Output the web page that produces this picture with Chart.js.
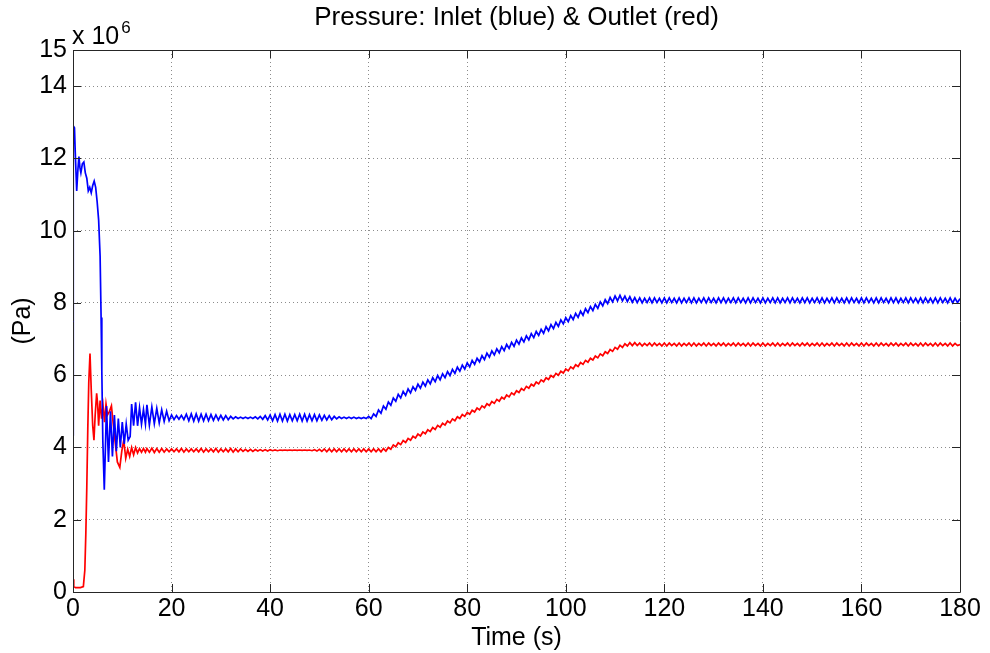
<!DOCTYPE html>
<html lang="en">
<head>
  <meta charset="UTF-8">
  <title>Pressure: Inlet (blue) &amp; Outlet (red)</title>
  <script src="https://cdn.jsdelivr.net/npm/chart.js"></script>
  <style>
    html, body { margin: 0; padding: 0; background: #fff; }
  </style>
</head>
<body>
  <canvas id="pressureChart" width="990" height="653"></canvas>

  <script>
    // all pressures are in units of 10^6 Pa (axis shows "x 10^6")
    const xTicks = [0, 20, 40, 60, 80, 100, 120, 140, 160, 180];
    const yTicks = [0, 2, 4, 6, 8, 10, 12, 14, 15];

    // start-up transient, read point by point
    const inletEarlyTime = [0, 0.05, 0.3, 0.45, 0.75, 1.0, 1.2, 1.4, 1.6, 1.9, 2.2, 2.5, 2.8, 3.1, 3.4, 3.7, 4.0, 4.3, 4.6, 4.9,
      5.2, 5.5, 5.7, 5.85, 6.05, 6.35, 6.8, 7.2, 7.6, 8.0, 8.4, 8.8, 9.2, 9.6, 10.0, 10.4, 10.8, 11.2, 11.6,
      11.9, 12.3, 12.7, 13.1, 13.5, 13.9, 14.3, 14.7];
    const inletEarly = [4.35, 12.9, 12.85, 12.2, 11.1, 11.7, 12.05, 11.75, 11.6, 11.85, 11.9, 11.6, 11.45, 11.1, 11.2, 11.05, 11.25, 11.37, 11.2, 10.8,
      10.3, 9.3, 7.6, 6.1, 4.2, 2.83, 5.15, 3.6, 5.0, 3.75, 4.9, 3.9, 4.8, 4.0, 4.7, 4.1, 4.65, 4.2, 4.3,
      5.2, 4.6, 5.25, 4.6, 5.1, 4.65, 5.05, 4.65];

    const outletEarlyTime = [0, 0.15, 0.5, 1.5, 2.1, 2.4, 2.6, 2.8, 3.0, 3.2, 3.45, 3.7, 4.0, 4.25, 4.5, 4.8, 5.0, 5.2, 5.5, 5.8,
      6.1, 6.4, 6.7, 7.0, 7.4, 7.8, 8.2, 8.6, 9.0, 9.5, 9.9, 10.3, 10.7, 11.1, 11.5, 11.9, 12.3, 12.7, 13.1,
      13.5, 13.9, 14.3, 14.7];
    const outletEarly = [0.35, 0.15, 0.12, 0.12, 0.15, 0.6, 1.6, 2.9, 4.5, 5.8, 6.6, 5.6, 4.6, 4.2, 4.9, 5.5, 5.2, 4.6, 5.3, 4.8,
      5.15, 4.7, 5.2, 4.9, 5.0, 5.15, 4.6, 4.1, 3.6, 3.45, 3.9, 4.2, 3.7, 3.95, 3.75, 4.0, 3.8, 4.0, 3.85,
      3.97, 3.87, 3.97, 3.87];

    // from t = 15 s on, one reading every 0.5 s (ripple peaks and troughs)
    const rippleStart = 15;
    const rippleStep = 0.5;
    const inletRipple = [
      5.18, 4.62, 5.12, 4.66, 5.08, 4.68, 5.04, 4.72, 5.00, 4.74,
      4.90, 4.77, 4.88, 4.78, 4.89, 4.77, 4.92, 4.74, 4.93, 4.73,
      4.93, 4.73, 4.92, 4.74, 4.92, 4.74, 4.91, 4.75, 4.90, 4.76,
      4.89, 4.76, 4.88, 4.77, 4.86, 4.79, 4.85, 4.80, 4.84, 4.80,
      4.84, 4.80, 4.84, 4.80, 4.85, 4.79, 4.86, 4.78, 4.88, 4.76,
      4.90, 4.74, 4.91, 4.73, 4.92, 4.73, 4.92, 4.73, 4.91, 4.74,
      4.91, 4.74, 4.92, 4.73, 4.92, 4.73, 4.91, 4.74, 4.91, 4.74,
      4.90, 4.75, 4.89, 4.76, 4.88, 4.77, 4.86, 4.79, 4.85, 4.80,
      4.84, 4.80, 4.84, 4.80, 4.84, 4.80, 4.83, 4.80, 4.83, 4.80,
      4.86, 4.80, 4.93, 4.86, 5.04, 4.95, 5.15, 5.06, 5.26, 5.17,
      5.37, 5.28, 5.47, 5.37, 5.55, 5.44, 5.62, 5.51, 5.68, 5.58,
      5.75, 5.64, 5.81, 5.70, 5.87, 5.76, 5.93, 5.82, 5.99, 5.87,
      6.04, 5.93, 6.10, 5.99, 6.16, 6.05, 6.22, 6.11, 6.28, 6.17,
      6.34, 6.23, 6.41, 6.30, 6.47, 6.37, 6.54, 6.43, 6.61, 6.50,
      6.67, 6.56, 6.73, 6.62, 6.79, 6.68, 6.85, 6.74, 6.91, 6.80,
      6.97, 6.86, 7.03, 6.92, 7.09, 6.98, 7.15, 7.04, 7.21, 7.10,
      7.27, 7.16, 7.34, 7.23, 7.40, 7.29, 7.46, 7.35, 7.53, 7.42,
      7.59, 7.48, 7.65, 7.54, 7.71, 7.60, 7.77, 7.66, 7.84, 7.73,
      7.90, 7.79, 7.96, 7.85, 8.03, 7.92, 8.09, 7.98, 8.15, 8.03,
      8.19, 8.06, 8.21, 8.06, 8.19, 8.04, 8.17, 8.02, 8.15, 8.01,
      8.14, 8.00, 8.13, 8.01, 8.14, 8.00, 8.14, 8.01, 8.13, 8.00,
      8.14, 8.00, 8.14, 8.01, 8.13, 8.00, 8.14, 8.00, 8.13, 8.01,
      8.14, 8.00, 8.14, 8.00, 8.13, 8.01, 8.14, 8.00, 8.14, 8.01,
      8.13, 8.00, 8.14, 8.01, 8.14, 8.00, 8.13, 8.01, 8.14, 8.00,
      8.14, 8.01, 8.13, 8.00, 8.14, 8.00, 8.14, 8.01, 8.13, 8.00,
      8.14, 8.00, 8.13, 8.01, 8.14, 8.00, 8.14, 8.00, 8.13, 8.01,
      8.14, 8.00, 8.14, 8.01, 8.13, 8.00, 8.14, 8.01, 8.14, 8.00,
      8.13, 8.01, 8.14, 8.00, 8.14, 8.00, 8.13, 8.01, 8.14, 8.00,
      8.14, 8.01, 8.13, 8.00, 8.14, 8.00, 8.14, 8.01, 8.13, 8.00,
      8.14, 8.00, 8.14, 8.01, 8.13, 8.00, 8.14, 8.00, 8.14, 8.01,
      8.13, 8.00, 8.14, 8.01, 8.14, 8.00, 8.13, 8.01, 8.14, 8.00,
      8.14, 8.01, 8.13, 8.00, 8.14, 8.00, 8.14, 8.01, 8.13, 8.00,
      8.14, 8.00, 8.14, 8.01, 8.13, 8.00, 8.14, 8.00, 8.13, 8.01,
      8.12
    ];
    const outletRipple = [
      3.97, 3.87, 3.98, 3.86, 3.97, 3.87, 3.97, 3.87, 3.96, 3.88,
      3.96, 3.88, 3.96, 3.88, 3.97, 3.87, 3.96, 3.88, 3.96, 3.88,
      3.96, 3.88, 3.97, 3.87, 3.96, 3.88, 3.96, 3.88, 3.97, 3.87,
      3.96, 3.88, 3.96, 3.88, 3.97, 3.87, 3.96, 3.88, 3.96, 3.89,
      3.95, 3.89, 3.95, 3.89, 3.94, 3.90, 3.94, 3.90, 3.94, 3.90,
      3.94, 3.91, 3.93, 3.91, 3.93, 3.92, 3.93, 3.92, 3.93, 3.92,
      3.93, 3.92, 3.93, 3.92, 3.93, 3.92, 3.93, 3.91, 3.94, 3.90,
      3.95, 3.89, 3.96, 3.88, 3.96, 3.88, 3.96, 3.88, 3.96, 3.88,
      3.96, 3.88, 3.96, 3.88, 3.96, 3.88, 3.96, 3.88, 3.96, 3.88,
      3.96, 3.88, 3.96, 3.88, 3.96, 3.88, 3.97, 3.90, 4.00, 3.95,
      4.07, 4.02, 4.13, 4.08, 4.19, 4.14, 4.25, 4.20, 4.31, 4.26,
      4.37, 4.32, 4.43, 4.38, 4.49, 4.44, 4.55, 4.50, 4.61, 4.56,
      4.67, 4.62, 4.73, 4.68, 4.79, 4.74, 4.85, 4.80, 4.91, 4.86,
      4.97, 4.92, 5.03, 4.98, 5.09, 5.04, 5.15, 5.10, 5.21, 5.16,
      5.27, 5.22, 5.33, 5.28, 5.39, 5.34, 5.45, 5.40, 5.51, 5.46,
      5.57, 5.52, 5.63, 5.58, 5.69, 5.64, 5.75, 5.70, 5.81, 5.76,
      5.87, 5.82, 5.93, 5.88, 5.99, 5.94, 6.05, 6.00, 6.11, 6.06,
      6.17, 6.12, 6.23, 6.18, 6.29, 6.24, 6.35, 6.30, 6.41, 6.36,
      6.47, 6.42, 6.53, 6.48, 6.59, 6.54, 6.65, 6.60, 6.71, 6.66,
      6.77, 6.72, 6.83, 6.77, 6.87, 6.81, 6.90, 6.82, 6.90, 6.82,
      6.89, 6.81, 6.88, 6.82, 6.89, 6.81, 6.89, 6.82, 6.88, 6.81,
      6.89, 6.81, 6.89, 6.82, 6.88, 6.81, 6.89, 6.81, 6.88, 6.82,
      6.89, 6.81, 6.89, 6.81, 6.88, 6.82, 6.89, 6.81, 6.89, 6.82,
      6.88, 6.81, 6.89, 6.82, 6.89, 6.81, 6.88, 6.82, 6.89, 6.81,
      6.89, 6.82, 6.88, 6.81, 6.89, 6.81, 6.89, 6.82, 6.88, 6.81,
      6.89, 6.81, 6.88, 6.82, 6.89, 6.81, 6.89, 6.81, 6.88, 6.82,
      6.89, 6.81, 6.89, 6.82, 6.88, 6.81, 6.89, 6.82, 6.89, 6.81,
      6.88, 6.82, 6.89, 6.81, 6.89, 6.81, 6.88, 6.82, 6.89, 6.81,
      6.89, 6.82, 6.88, 6.81, 6.89, 6.81, 6.89, 6.82, 6.88, 6.81,
      6.89, 6.81, 6.89, 6.82, 6.88, 6.81, 6.89, 6.81, 6.89, 6.82,
      6.88, 6.81, 6.89, 6.82, 6.89, 6.81, 6.88, 6.82, 6.89, 6.81,
      6.89, 6.82, 6.88, 6.81, 6.89, 6.81, 6.89, 6.82, 6.88, 6.81,
      6.89, 6.81, 6.89, 6.82, 6.88, 6.81, 6.89, 6.81, 6.88, 6.82,
      6.85
    ];

    const FONT = "'Liberation Sans', Arial, Helvetica, sans-serif";

    function toPoints(times, values) {
      return values.map((v, i) => ({ x: times[i], y: v }));
    }
    const rippleTime = inletRipple.map((_, i) => rippleStart + i * rippleStep);
    const inletData = toPoints(inletEarlyTime, inletEarly).concat(toPoints(rippleTime, inletRipple));
    const outletData = toPoints(outletEarlyTime, outletEarly).concat(toPoints(rippleTime, outletRipple));

    // matlab style frame: title, box, inward ticks, exponent label
    const matlabFrame = {
      id: 'matlabFrame',
      afterDraw(chart) {
        const { ctx, chartArea: a, scales: { x, y } } = chart;
        ctx.save();
        ctx.strokeStyle = '#262626';
        ctx.lineWidth = 1;
        ctx.beginPath();
        ctx.rect(Math.round(a.left) + 0.5, Math.round(a.top) + 0.5,
          Math.round(a.right - a.left), Math.round(a.bottom - a.top));
        ctx.stroke();

        const len = 8;
        ctx.beginPath();
        xTicks.forEach(v => {
          const px = Math.round(x.getPixelForValue(v)) + 0.5;
          ctx.moveTo(px, a.bottom); ctx.lineTo(px, a.bottom - len);
          ctx.moveTo(px, a.top); ctx.lineTo(px, a.top + len);
        });
        yTicks.forEach(v => {
          const py = Math.round(y.getPixelForValue(v)) + 0.5;
          ctx.moveTo(a.left, py); ctx.lineTo(a.left + len, py);
          ctx.moveTo(a.right, py); ctx.lineTo(a.right - len, py);
        });
        ctx.stroke();

        ctx.fillStyle = '#000';
        ctx.textBaseline = 'alphabetic';
        ctx.textAlign = 'left';
        ctx.font = '25px ' + FONT;
        ctx.fillText('x 10', a.left - 1, a.top - 6);
        const w = ctx.measureText('x 10').width;
        ctx.font = '17px ' + FONT;
        ctx.fillText('6', a.left - 1 + w + 2, a.top - 17);

        ctx.textAlign = 'center';
        ctx.textBaseline = 'middle';
        ctx.font = '26px ' + FONT;
        ctx.fillText('Pressure: Inlet (blue) & Outlet (red)', (a.left + a.right) / 2, 18);
        ctx.restore();
      }
    };

    new Chart(document.getElementById('pressureChart'), {
      type: 'line',
      data: {
        datasets: [
          {
            label: 'Inlet',
            data: inletData,
            borderColor: '#0000ff',
            borderWidth: 1.7,
            pointRadius: 0,
            tension: 0,
            fill: false
          },
          {
            label: 'Outlet',
            data: outletData,
            borderColor: '#ff0000',
            borderWidth: 1.7,
            pointRadius: 0,
            tension: 0,
            fill: false
          }
        ]
      },
      options: {
        responsive: false,
        animation: false,
        layout: { padding: { top: 50, right: 30, left: 0, bottom: 0 } },
        plugins: {
          legend: { display: false },
          tooltip: { enabled: false },
          title: { display: false }
        },
        scales: {
          x: {
            type: 'linear',
            min: 0,
            max: 180,
            afterBuildTicks: scale => { scale.ticks = xTicks.map(v => ({ value: v })); },
            afterFit: scale => { scale.height = 61; },
            ticks: {
              color: '#000',
              padding: 2,
              maxRotation: 0,
              font: { family: FONT, size: 25 }
            },
            grid: { color: '#8c8c8c', drawTicks: false },
            border: { display: false, dash: [1, 3] },
            title: {
              display: true,
              text: 'Time (s)',
              color: '#000',
              padding: { top: 0, bottom: 0 },
              font: { family: FONT, size: 25 }
            }
          },
          y: {
            min: 0,
            max: 15,
            afterBuildTicks: scale => { scale.ticks = yTicks.map(v => ({ value: v })); },
            afterFit: scale => { scale.width = 73; },
            ticks: {
              color: '#000',
              padding: 6,
              font: { family: FONT, size: 25 }
            },
            grid: { color: '#8c8c8c', drawTicks: false },
            border: { display: false, dash: [1, 3] },
            title: {
              display: true,
              text: '(Pa)',
              color: '#000',
              padding: { top: 8, bottom: 0 },
              font: { family: FONT, size: 25 }
            }
          }
        }
      },
      plugins: [matlabFrame]
    });
  </script>
</body>
</html>
